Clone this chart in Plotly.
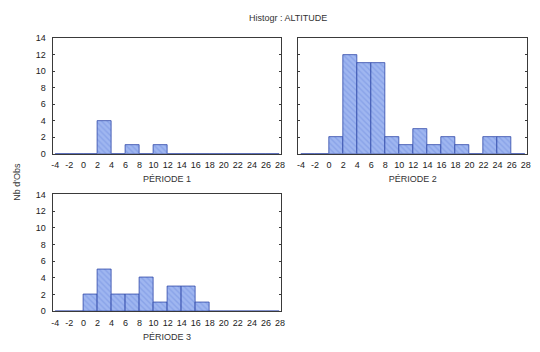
import plotly.graph_objects as go

# Histogram bins (width 2) from -4 to 28, counts per period
bin_left = [-4, -2, 0, 2, 4, 6, 8, 10, 12, 14, 16, 18, 20, 22, 24, 26]
periode_1 = [0, 0, 0, 4, 0, 1, 0, 1, 0, 0, 0, 0, 0, 0, 0, 0]
periode_2 = [0, 0, 2, 12, 11, 11, 2, 1, 3, 1, 2, 1, 0, 2, 2, 0]
periode_3 = [0, 0, 2, 5, 2, 2, 4, 1, 3, 3, 1, 0, 0, 0, 0, 0]
panel_titles = ["PÉRIODE 1", "PÉRIODE 2", "PÉRIODE 3"]
x_ticks = list(range(-4, 30, 2))
x_tick_text = [str(v) for v in x_ticks]  # plain hyphen for negatives
y_ticks = list(range(0, 16, 2))

W, H = 540, 352
FONT = "Liberation Sans, Arial, sans-serif"

def px_x(a, b):
    return [a / W, b / W]

def px_y(top, bottom):
    return [1 - bottom / H, 1 - top / H]

panels = [
    (periode_1, px_x(52, 283), px_y(34, 153), True),
    (periode_2, px_x(300, 531), px_y(34, 153), False),
    (periode_3, px_x(52, 283), px_y(195, 315), True),
]

fig = go.Figure()
centers = [b + 1 for b in bin_left]

for i, (counts, xd, yd, show_y) in enumerate(panels, start=1):
    xa = "x" if i == 1 else f"x{i}"
    ya = "y" if i == 1 else f"y{i}"
    fig.add_trace(go.Bar(
        x=centers, y=counts, width=2, xaxis=xa, yaxis=ya,
        marker=dict(
            color="#9fb6f0",
            line=dict(color="#2f47a8", width=0.8),
            pattern=dict(shape="\\", fgcolor="#738fe0", bgcolor="#9fb6f0",
                         size=4, solidity=0.35),
        ),
        showlegend=False, hoverinfo="skip",
    ))
    axis_common = dict(showline=True, mirror="ticks", linecolor="#3a3a3a",
                       linewidth=1, ticks="inside", ticklen=2, tickcolor="#3a3a3a",
                       showgrid=False, zeroline=False,
                       tickfont=dict(family=FONT, size=9, color="#222"))
    fig.layout[f"xaxis{'' if i == 1 else i}"] = dict(
        axis_common, domain=xd, anchor=ya, range=[-4.4, 28.2],
        tickvals=x_ticks, ticktext=x_tick_text, tickangle=0, ticks="",
        ticklabelstandoff=3,
        title=dict(text=panel_titles[i - 1], standoff=6,
                   font=dict(family=FONT, size=9, color="#333")),
    )
    fig.layout[f"yaxis{'' if i == 1 else i}"] = dict(
        axis_common, domain=yd, anchor=xa, range=[0, 14],
        tickvals=y_ticks, showticklabels=show_y, ticklabelstandoff=4,
    )

fig.add_annotation(text="Histogr : ALTITUDE", x=290 / W, y=1 - 13 / H,
                   xref="paper", yref="paper", showarrow=False,
                   yanchor="middle", xanchor="center",
                   font=dict(family=FONT, size=9, color="#333"))
fig.add_annotation(text="Nb d'Obs", x=16 / W, y=1 - 182 / H,
                   xref="paper", yref="paper", showarrow=False, textangle=-90,
                   yanchor="middle", xanchor="center",
                   font=dict(family=FONT, size=9, color="#333"))

fig.update_layout(width=W, height=H, margin=dict(l=0, r=0, t=0, b=0),
                  paper_bgcolor="white", plot_bgcolor="white", bargap=0)
fig.write_html("out.html")
